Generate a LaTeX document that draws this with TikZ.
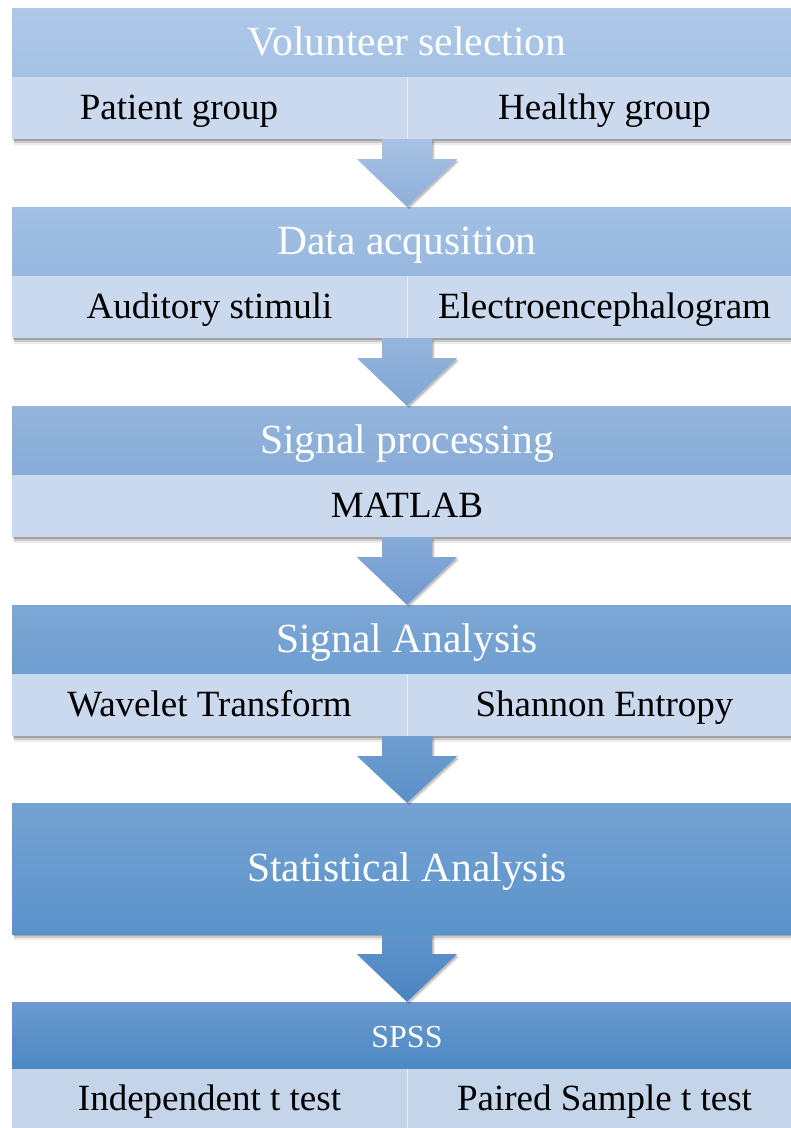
\documentclass[tikz,border=0pt]{standalone}
\usepackage{fontspec}
\setmainfont{Liberation Serif}
\usetikzlibrary{shadows,calc}
\definecolor{subc}{HTML}{CAD9ED}
\definecolor{subcb}{HTML}{C4D5EA}
\definecolor{hAt}{HTML}{ADC8E8}\definecolor{hAb}{HTML}{A5C1E4}
\definecolor{hBt}{HTML}{A2C0E4}\definecolor{hBb}{HTML}{97B7DF}
\definecolor{hCt}{HTML}{93B4DC}\definecolor{hCb}{HTML}{88ADD8}
\definecolor{hDt}{HTML}{7DA7D5}\definecolor{hDb}{HTML}{6F9ED1}
\definecolor{hEt}{HTML}{75A2D2}\definecolor{hEb}{HTML}{5A93CB}
\definecolor{hFt}{HTML}{6A9ACE}\definecolor{hFb}{HTML}{4D88C4}
\definecolor{aAt}{HTML}{A7C2E4}\definecolor{aAb}{HTML}{8EAFDA}
\definecolor{aBt}{HTML}{95B5DD}\definecolor{aBb}{HTML}{7FA6D4}
\definecolor{aCt}{HTML}{86ABD8}\definecolor{aCb}{HTML}{7099D0}
\definecolor{aDt}{HTML}{6E9DD0}\definecolor{aDb}{HTML}{5A90C8}
\definecolor{aEt}{HTML}{5F93CB}\definecolor{aEb}{HTML}{4A85C1}
\tikzset{
  boxshadow/.style={
    drop shadow={shadow xshift=2pt, shadow yshift=-6pt, fill=black, opacity=0.08},
    drop shadow={shadow xshift=1.5pt, shadow yshift=-4pt, fill=black, opacity=0.14},
    drop shadow={shadow xshift=1pt, shadow yshift=-2pt, fill=black, opacity=0.2}},
  hdr/.style={rectangle, inner sep=0pt, minimum width=790pt, minimum height=69pt,
    text=white, font=\fontsize{41.5}{48}\selectfont, text height=26.5pt, text depth=0pt, boxshadow},
  subbox/.style={rectangle, inner sep=0pt, minimum width=395pt, minimum height=62pt,
    fill=subc, font=\fontsize{37}{42}\selectfont, text height=23.7pt, text depth=0pt, boxshadow},
  subtxt/.style={inner sep=0pt, font=\fontsize{37}{42}\selectfont, text height=23.7pt, text depth=0pt},
  divider/.style={white!55!subc, line width=1pt},
  arrowshadow/.style={
    drop shadow={shadow xshift=2.5pt, shadow yshift=-2.5pt, fill=black, opacity=0.1},
    drop shadow={shadow xshift=1.5pt, shadow yshift=-1.5pt, fill=black, opacity=0.16}},
}
\newcommand{\blockarrow}[4]{%
  \path[top color=#3, bottom color=#4, arrowshadow]
    ($(#1)+(-25,0)$) -- ($(#1)+(25,0)$) -- ($(#1)+(25,-20)$) -- ($(#1)+(50,-20)$)
    -- (#2) -- ($(#1)+(-50,-20)$) -- ($(#1)+(-25,-20)$) -- cycle;}
\begin{document}
\begin{tikzpicture}[x=1pt,y=1pt]
\useasboundingbox (0,0) rectangle (791,-1128);
\clip (0,0) rectangle (791,-1128);
% Block 1
\node[hdr, top color=hAt, bottom color=hAb] (h1) at (407,-42.5) {Volunteer selection};
\node[subbox] (s1l) at (209.5,-108) {};
\node[subbox] (s1r) at (604.5,-108) {};
\node[subtxt] (t1l) at (179,-108) {Patient group};
\node[subtxt] (t1r) at (604.5,-108) {Healthy group};
\draw[divider] (s1l.north east) -- (s1l.south east);
% Block 2
\node[hdr, top color=hBt, bottom color=hBb] (h2) at (407,-241.5) {Data acqusition};
\node[subbox] (s2l) at (209.5,-307) {};
\node[subbox] (s2r) at (604.5,-307) {};
\node[subtxt] (t2l) at (209.5,-307) {Auditory stimuli};
\node[subtxt] (t2r) at (604.5,-307) {Electroencephalogram};
\draw[divider] (s2l.north east) -- (s2l.south east);
% Block 3
\node[hdr, top color=hCt, bottom color=hCb] (h3) at (407,-440.5) {Signal processing};
\node[subbox, minimum width=790pt] (s3) at (407,-506) {MATLAB};
% Block 4
\node[hdr, top color=hDt, bottom color=hDb] (h4) at (407,-639.5) {Signal Analysis};
\node[subbox] (s4l) at (209.5,-705) {};
\node[subbox] (s4r) at (604.5,-705) {};
\node[subtxt] (t4l) at (209.5,-705) {Wavelet Transform};
\node[subtxt] (t4r) at (604.5,-705) {Shannon Entropy};
\draw[divider] (s4l.north east) -- (s4l.south east);
% Block 5
\node[hdr, minimum height=131pt, top color=hEt, bottom color=hEb] (h5) at (407,-868.5) {Statistical Analysis};
% Block 6
\node[hdr, minimum height=67pt, top color=hFt, bottom color=hFb, font=\fontsize{32}{36}\selectfont, text height=23pt] (h6) at (407,-1035.5) {SPSS};
\node[subbox, fill=subcb, minimum height=60pt] (s6l) at (209.5,-1099) {};
\node[subbox, fill=subcb, minimum height=60pt] (s6r) at (604.5,-1099) {};
\node[subtxt] (t6l) at (209.5,-1099) {Independent t test};
\node[subtxt] (t6r) at (604.5,-1099) {Paired Sample t test};
\draw[divider] (s6l.north east) -- (s6l.south east);
% Arrows
\blockarrow{s1l.south east}{h2.north}{aAt}{aAb}
\blockarrow{s2l.south east}{h3.north}{aBt}{aBb}
\blockarrow{s3.south}{h4.north}{aCt}{aCb}
\blockarrow{s4l.south east}{h5.north}{aDt}{aDb}
\blockarrow{h5.south}{h6.north}{aEt}{aEb}
\end{tikzpicture}
\end{document}
